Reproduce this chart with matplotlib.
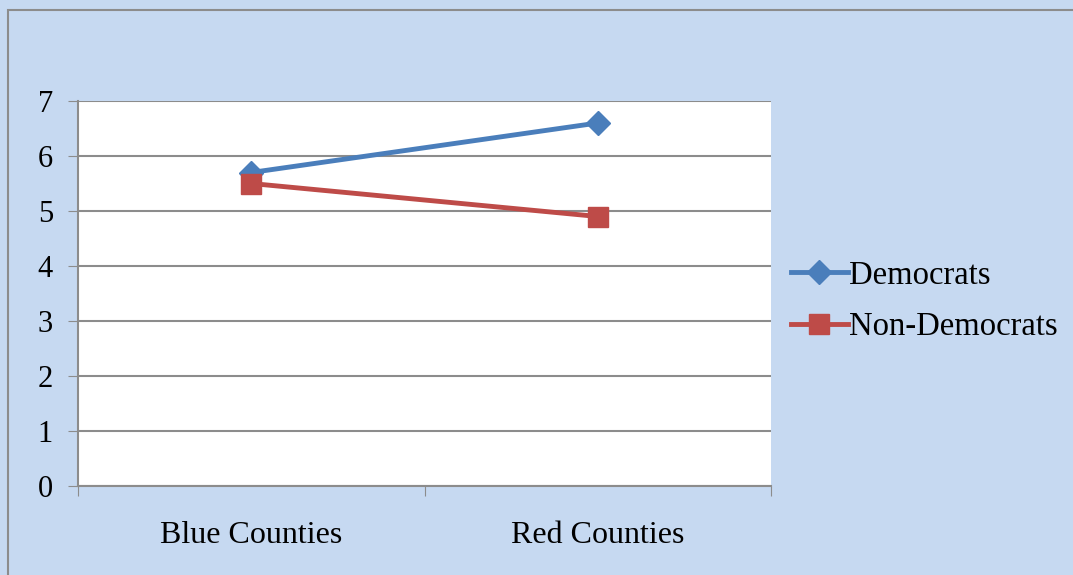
import matplotlib.pyplot as plt
from matplotlib.patches import Rectangle

categories = ["Blue Counties", "Red Counties"]
democrats = [5.7, 6.6]
non_democrats = [5.5, 4.9]
y_ticks = [0, 1, 2, 3, 4, 5, 6, 7]


def main():
    plt.rcParams["font.family"] = ["Liberation Serif", "DejaVu Serif"]
    fig = plt.figure(figsize=(10.73, 5.75), dpi=100)
    fig.patch.set_facecolor("#C6D9F1")
    fig.patches.append(Rectangle((8 / 1073, -0.1), 1.2, (575 - 10) / 575 + 0.1,
                                 transform=fig.transFigure, fill=False,
                                 edgecolor="#8C8C8C", linewidth=1.5))

    ax = fig.add_axes([78 / 1073, 1 - 486 / 575, (771 - 78) / 1073, (486 - 101) / 575])
    ax.set_facecolor("white")

    x = [0.5, 1.5]
    ax.plot(x, democrats, color="#4A7EBB", linewidth=3.5, marker="D",
            markersize=12, label="Democrats")
    ax.plot(x, non_democrats, color="#BE4B48", linewidth=3.5, marker="s",
            markersize=14, label="Non-Democrats")

    ax.set_xlim(0, 2)
    ax.set_ylim(0, 7)
    ax.set_yticks(y_ticks)
    ax.set_xticks([0, 1, 2])
    ax.set_xticklabels([])
    ax.set_xticks(x, minor=True)
    ax.set_xticklabels(categories, minor=True)
    ax.tick_params(axis="x", which="minor", length=0, pad=25, labelsize=23)
    ax.tick_params(axis="x", which="major", length=7, color="#8C8C8C", direction="out")
    ax.tick_params(axis="y", length=7, color="#8C8C8C", labelsize=22, pad=11)
    ax.yaxis.grid(True, color="#8C8C8C", linewidth=1.5)
    ax.set_axisbelow(True)
    for side in ["top", "right"]:
        ax.spines[side].set_visible(False)
    for side in ["left", "bottom"]:
        ax.spines[side].set_color("#8C8C8C")
        ax.spines[side].set_linewidth(1.5)

    ax.legend(loc="center left", bbox_to_anchor=(1.0, 0.48), frameon=False,
              fontsize=23.5, handlelength=1.75, handletextpad=0.05, labelspacing=0.65,
              borderaxespad=0.2)

    fig.savefig("out.png", dpi=100, facecolor=fig.get_facecolor())


if __name__ == "__main__":
    main()
